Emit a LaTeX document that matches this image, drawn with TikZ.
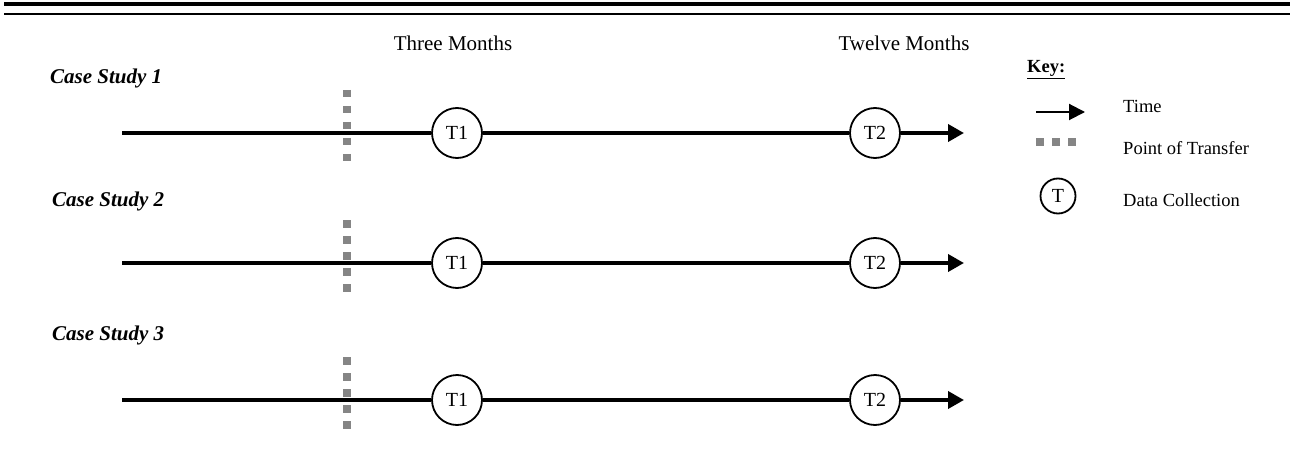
\documentclass[tikz,border=0pt]{standalone}
\usepackage{fontspec}
\setmainfont{Liberation Serif}
\usetikzlibrary{arrows.meta}
\definecolor{dotgray}{HTML}{858585}
\tikzset{
  tl/.style={line width=3.6pt},
  tlarrow/.style={line width=3.6pt,-{Triangle[length=16pt,width=17pt]}},
  tpoint/.style={circle,draw,line width=1.8pt,minimum size=50pt,inner sep=0pt,font=\fontsize{20}{24}\selectfont},
  transfer/.style={dotgray,line width=7.5pt,dash pattern=on 7.5pt off 8.5pt},
  lbl/.style={inner sep=0pt,font=\fontsize{21}{25}\selectfont},
  cs/.style={inner sep=0pt,anchor=base west,font=\fontsize{21}{25}\selectfont\bfseries\itshape},
  keytxt/.style={inner sep=0pt,anchor=base west,font=\fontsize{18.5}{22}\selectfont},
}
\begin{document}
\begin{tikzpicture}[x=1pt,y=-1pt]
\useasboundingbox (0,0) rectangle (1292,457);
% top rules
\draw[line width=4pt] (4,4) -- (1290,4);
\draw[line width=2pt] (4,14) -- (1290,14);
% column headings
\node[lbl,anchor=base] (h1) at (453,51) {Three Months};
\node[lbl,anchor=base] (h2) at (904,51) {Twelve Months};
% rows
\foreach \i/\y/\ly/\lx in {1/133/84/50, 2/263/207/52, 3/400/340/52} {
  \node[cs] (cs\i) at (\lx,\ly) {Case Study \i};
  \coordinate (s\i) at (122,\y);
  \node[tpoint] (a\i) at (457,\y) {T1};
  \node[tpoint] (b\i) at (875,\y) {T2};
  \coordinate (e\i) at (964,\y);
  \draw[tl] (s\i) -- (a\i);
  \draw[tl] (a\i) -- (b\i);
  \draw[tlarrow] (b\i) -- (e\i);
  \coordinate (dt\i) at (347,\y-43);
  \coordinate (db\i) at (347,\y+29);
  \draw[transfer] (dt\i) -- (db\i);
}
% key
\node[inner sep=0pt,anchor=base west,font=\fontsize{18.5}{22}\selectfont\bfseries] (key) at (1027,73) {\underline{Key:}};
\coordinate (ka) at (1036,112);
\coordinate (kb) at (1085,112);
\draw[line width=2pt,-{Triangle[length=16pt,width=16pt]}] (ka) -- (kb);
\node[keytxt] (ktime) at (1123,113) {Time};
\coordinate (kd1) at (1036,142);
\coordinate (kd2) at (1076,142);
\draw[dotgray,line width=8pt,dash pattern=on 7.5pt off 8.5pt] (kd1) -- (kd2);
\node[keytxt] (ktrans) at (1123,155) {Point of Transfer};
\node[circle,draw,line width=1.8pt,minimum size=35pt,inner sep=0pt,font=\fontsize{20}{24}\selectfont] (kc) at (1058,196) {T};
\node[keytxt] (kdata) at (1123,207) {Data Collection};
\end{tikzpicture}
\end{document}
